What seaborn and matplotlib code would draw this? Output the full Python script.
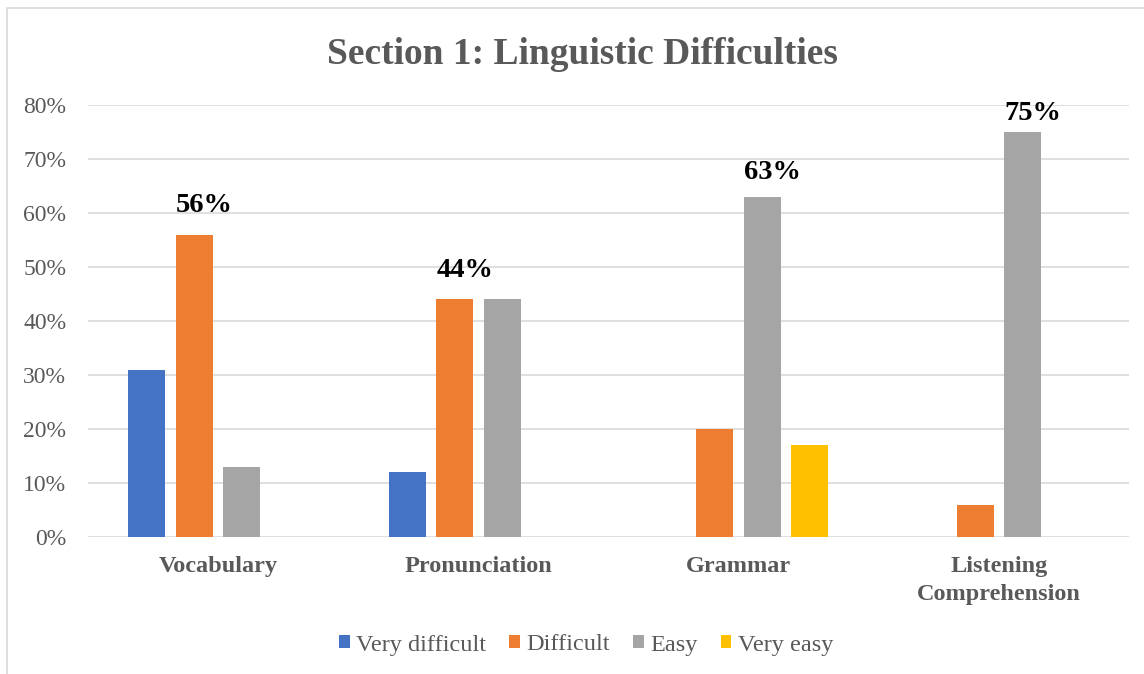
import matplotlib
matplotlib.use("Agg")
import matplotlib.pyplot as plt
import seaborn as sns
import pandas as pd
from matplotlib.patches import Rectangle
from matplotlib.ticker import FuncFormatter

categories = ["Vocabulary", "Pronunciation", "Grammar", "Listening\nComprehension"]
series = ["Very difficult", "Difficult", "Easy", "Very easy"]
very_difficult = [0.31, 0.12, 0.00, 0.00]
difficult = [0.56, 0.44, 0.20, 0.06]
easy = [0.13, 0.44, 0.63, 0.75]
very_easy = [0.00, 0.00, 0.17, 0.00]
# which bar of each category carries a label (series name)
labelled = {"Vocabulary": "Difficult", "Pronunciation": "Difficult",
            "Grammar": "Easy", "Listening\nComprehension": "Easy"}
colors = ["#4472C4", "#ED7D31", "#A5A5A5", "#FFC000"]
# label offset above the bar, in points, per category (layout only)
label_pad = {"Vocabulary": 12, "Pronunciation": 12, "Grammar": 8.5,
             "Listening\nComprehension": 4.5}

rows = []
for s, vals in zip(series, [very_difficult, difficult, easy, very_easy]):
    for c, v in zip(categories, vals):
        rows.append({"category": c, "series": s, "value": v})
df = pd.DataFrame(rows)

sns.set_theme(style="white")
plt.rcParams['font.family'] = ['Liberation Serif', 'DejaVu Serif']

fig = plt.figure(figsize=(11.44, 6.74), dpi=100)
ax = fig.add_axes([88/1144, 1-537/674, 1041/1144, (537-105)/674])

sns.barplot(data=df, x="category", y="value", hue="series", order=categories,
            hue_order=series, palette=colors, width=0.73, gap=0.22,
            linewidth=0, saturation=1, ax=ax, legend=True)

ax.set_ylim(0, 0.8)
ax.set_xlim(-0.5, len(categories) - 0.5)
ax.set_yticks([i/10 for i in range(9)])
ax.yaxis.set_major_formatter(FuncFormatter(lambda v, p: f"{v*100:.0f}%"))
ax.grid(axis='y', color='#D9D9D9', linewidth=1.2)
ax.set_axisbelow(True)
for sp in ax.spines.values():
    sp.set_visible(False)
ax.set_xlabel("")
ax.set_ylabel("")
ax.tick_params(axis='y', labelsize=17, labelcolor='#595959', pad=15.7, length=0)
ax.tick_params(axis='x', labelsize=17.5, labelcolor='#595959', pad=14, length=0)
for t in ax.get_xticklabels():
    t.set_fontweight('bold')
    t.set_verticalalignment('top')
    t.set_linespacing(1.38)

for s, cont in zip(series, ax.containers):
    labs = []
    for c, bar in zip(categories, cont):
        labs.append(f"{bar.get_height()*100:.0f}%" if labelled[c] == s else "")
    anns = ax.bar_label(cont, labels=labs, padding=12, fontsize=20.5, fontweight='bold', color='black')
    for c, a in zip(categories, anns):
        a.xyann = (7.3, label_pad[c])

leg = ax.legend(loc='center', bbox_to_anchor=(586/1144, (674-645)/674), bbox_transform=fig.transFigure,
                ncol=4, frameon=False, fontsize=17.5, handlelength=0.45, handleheight=0.45,
                handletextpad=0.25, columnspacing=0.95)
for t in leg.get_texts():
    t.set_color('#595959')

fig.text(582/1144, 1-55/674, "Section 1: Linguistic Difficulties", ha='center', va='center',
         fontsize=27, fontweight='bold', color='#595959')

fig.patches.append(Rectangle((7/1144, -0.1), 1.2, 1-8/674+0.1, transform=fig.transFigure,
                             fill=False, edgecolor='#D9D9D9', linewidth=1.2))

fig.savefig("out.png", dpi=100)
